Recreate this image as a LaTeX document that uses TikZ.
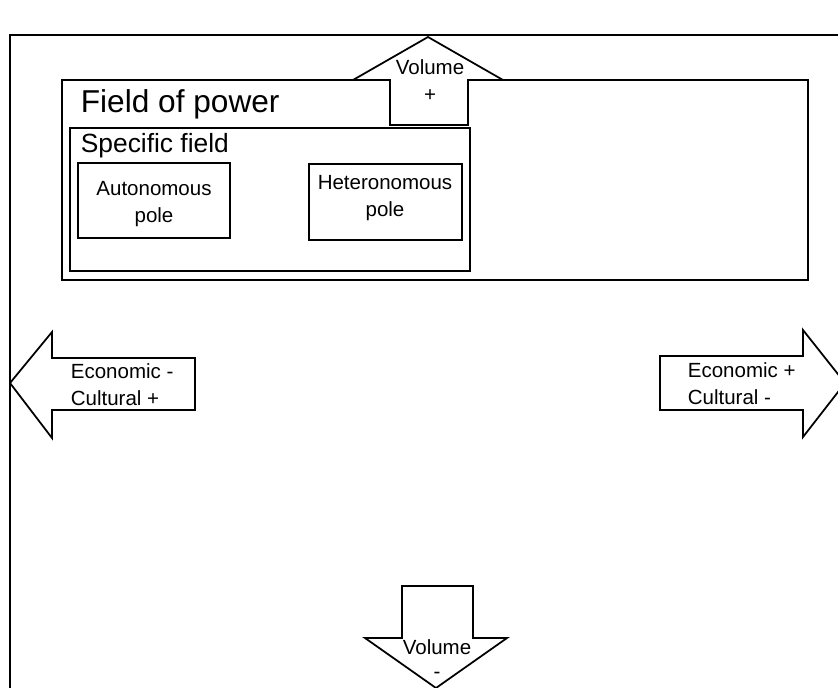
\documentclass[tikz,border=0pt]{standalone}
\usepackage{fontspec}
\setmainfont{Liberation Sans}
\usepackage{tikz}

\begin{document}
\begin{tikzpicture}[x=0.03cm, y=-0.03cm, line width=1.5pt,
    blockarrow/.style={draw, fill=white, line join=miter},
    smalltext/.style={font=\fontsize{17.5}{23}\selectfont, inner sep=0pt}]
        \useasboundingbox (0,0) rectangle (838,687);
        \clip (0,0) rectangle (838,687);

        % Outer frame
        \draw (838,35) -- (10,35) -- (10,690);

        % Field of power and specific field
        \draw (62,80) rectangle (808,280);
        \draw (70,128) rectangle (470,271);
        \node[anchor=west, inner sep=0pt, font=\fontsize{27}{30}\selectfont] (power) at (80,104) {Field of power};
        \node[anchor=west, inner sep=0pt, font=\fontsize{22.5}{26}\selectfont] (specific) at (80,146) {Specific field};

        % Poles
        \draw (78,163) rectangle (230,238);
        \draw (309,164) rectangle (462,240);
        \node[smalltext, align=center] (auto) at (154,204) {Autonomous\\pole};
        \node[smalltext, align=center] (hetero) at (385,198) {Heteronomous\\pole};

        % Volume arrows
        \draw[blockarrow] (390,125) -- (390,80) -- (353,80) -- (428,37) -- (503,80) -- (468,80) -- (468,125) -- cycle;
        \node[smalltext, align=center] (volup) at (430,81) {Volume\\+};
        \draw[blockarrow] (402,586) -- (473,586) -- (473,638) -- (507,638) -- (436,688) -- (365,638) -- (402,638) -- cycle;
        \node[smalltext, align=center, font=\fontsize{17.5}{20}\selectfont] (voldown) at (437,659) {Volume\\-};

        % Economic / cultural arrows
        \draw[blockarrow] (195,358) -- (52,358) -- (52,332) -- (10,383) -- (52,438) -- (52,410) -- (195,410) -- cycle;
        \node[smalltext, anchor=west, align=left] (left) at (70,385) {Economic -\\Cultural +};
        \draw[blockarrow] (660,356) -- (803,356) -- (803,330) -- (845,383) -- (803,437) -- (803,410) -- (660,410) -- cycle;
        \node[smalltext, anchor=west, align=left] (right) at (687,384) {Economic +\\Cultural -};
    \end{tikzpicture}
\end{document}
